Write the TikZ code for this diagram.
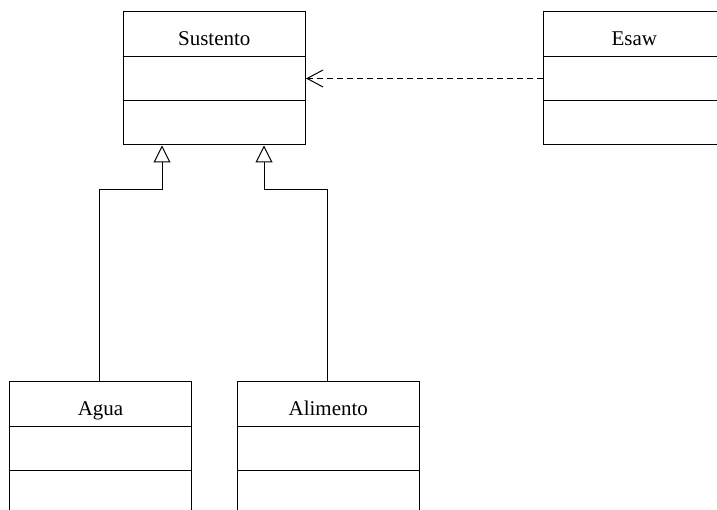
\documentclass[tikz,border=0pt]{standalone}
\usepackage{fontspec}
\setmainfont{Liberation Serif}
\usetikzlibrary{arrows.meta}
\begin{document}
\begin{tikzpicture}[x=1pt,y=1pt,line width=1pt,
  umlbox/.style={draw, rectangle, minimum width=182.5pt, minimum height=133pt, inner sep=0pt},
  umltitle/.style={font=\fontsize{21}{25}\selectfont, inner sep=0pt, anchor=base},
  gen/.style={-{Triangle[open,length=17pt,width=17pt,line width=1pt]}},
  dep/.style={dash pattern=on 6pt off 4pt, -{Straight Barb[length=16pt,width=17pt,line width=1pt]}}]
\useasboundingbox (0,0) rectangle (717,510);
\clip (0,0) rectangle (717,510);
\node[umlbox] (sus) at (214.25,431.5) {};
\node[umlbox] (esaw) at (634.25,431.5) {};
\node[umlbox] (agua) at (100.5,61.5) {};
\node[umlbox] (ali) at (328.3,61.5) {};
\foreach \b/\t in {sus/Sustento, esaw/Esaw, agua/Agua, ali/Alimento}{
  \node[umltitle] (\b-title) at ([yshift=-34.5pt]\b.north) {\t};
  \draw ([yshift=-45pt]\b.north west) -- ([yshift=-45pt]\b.north east);
  \draw ([yshift=-89pt]\b.north west) -- ([yshift=-89pt]\b.north east);
}
\draw[gen] ([xshift=-1.5pt]agua.north) -- ++(0,192) -| ([xshift=-52.25pt]sus.south);
\draw[gen] ([xshift=-1.3pt]ali.north) -- ++(0,192) -| ([xshift=49.75pt]sus.south);
\draw[dep] (esaw.west) -- (sus.east);
\end{tikzpicture}
\end{document}
